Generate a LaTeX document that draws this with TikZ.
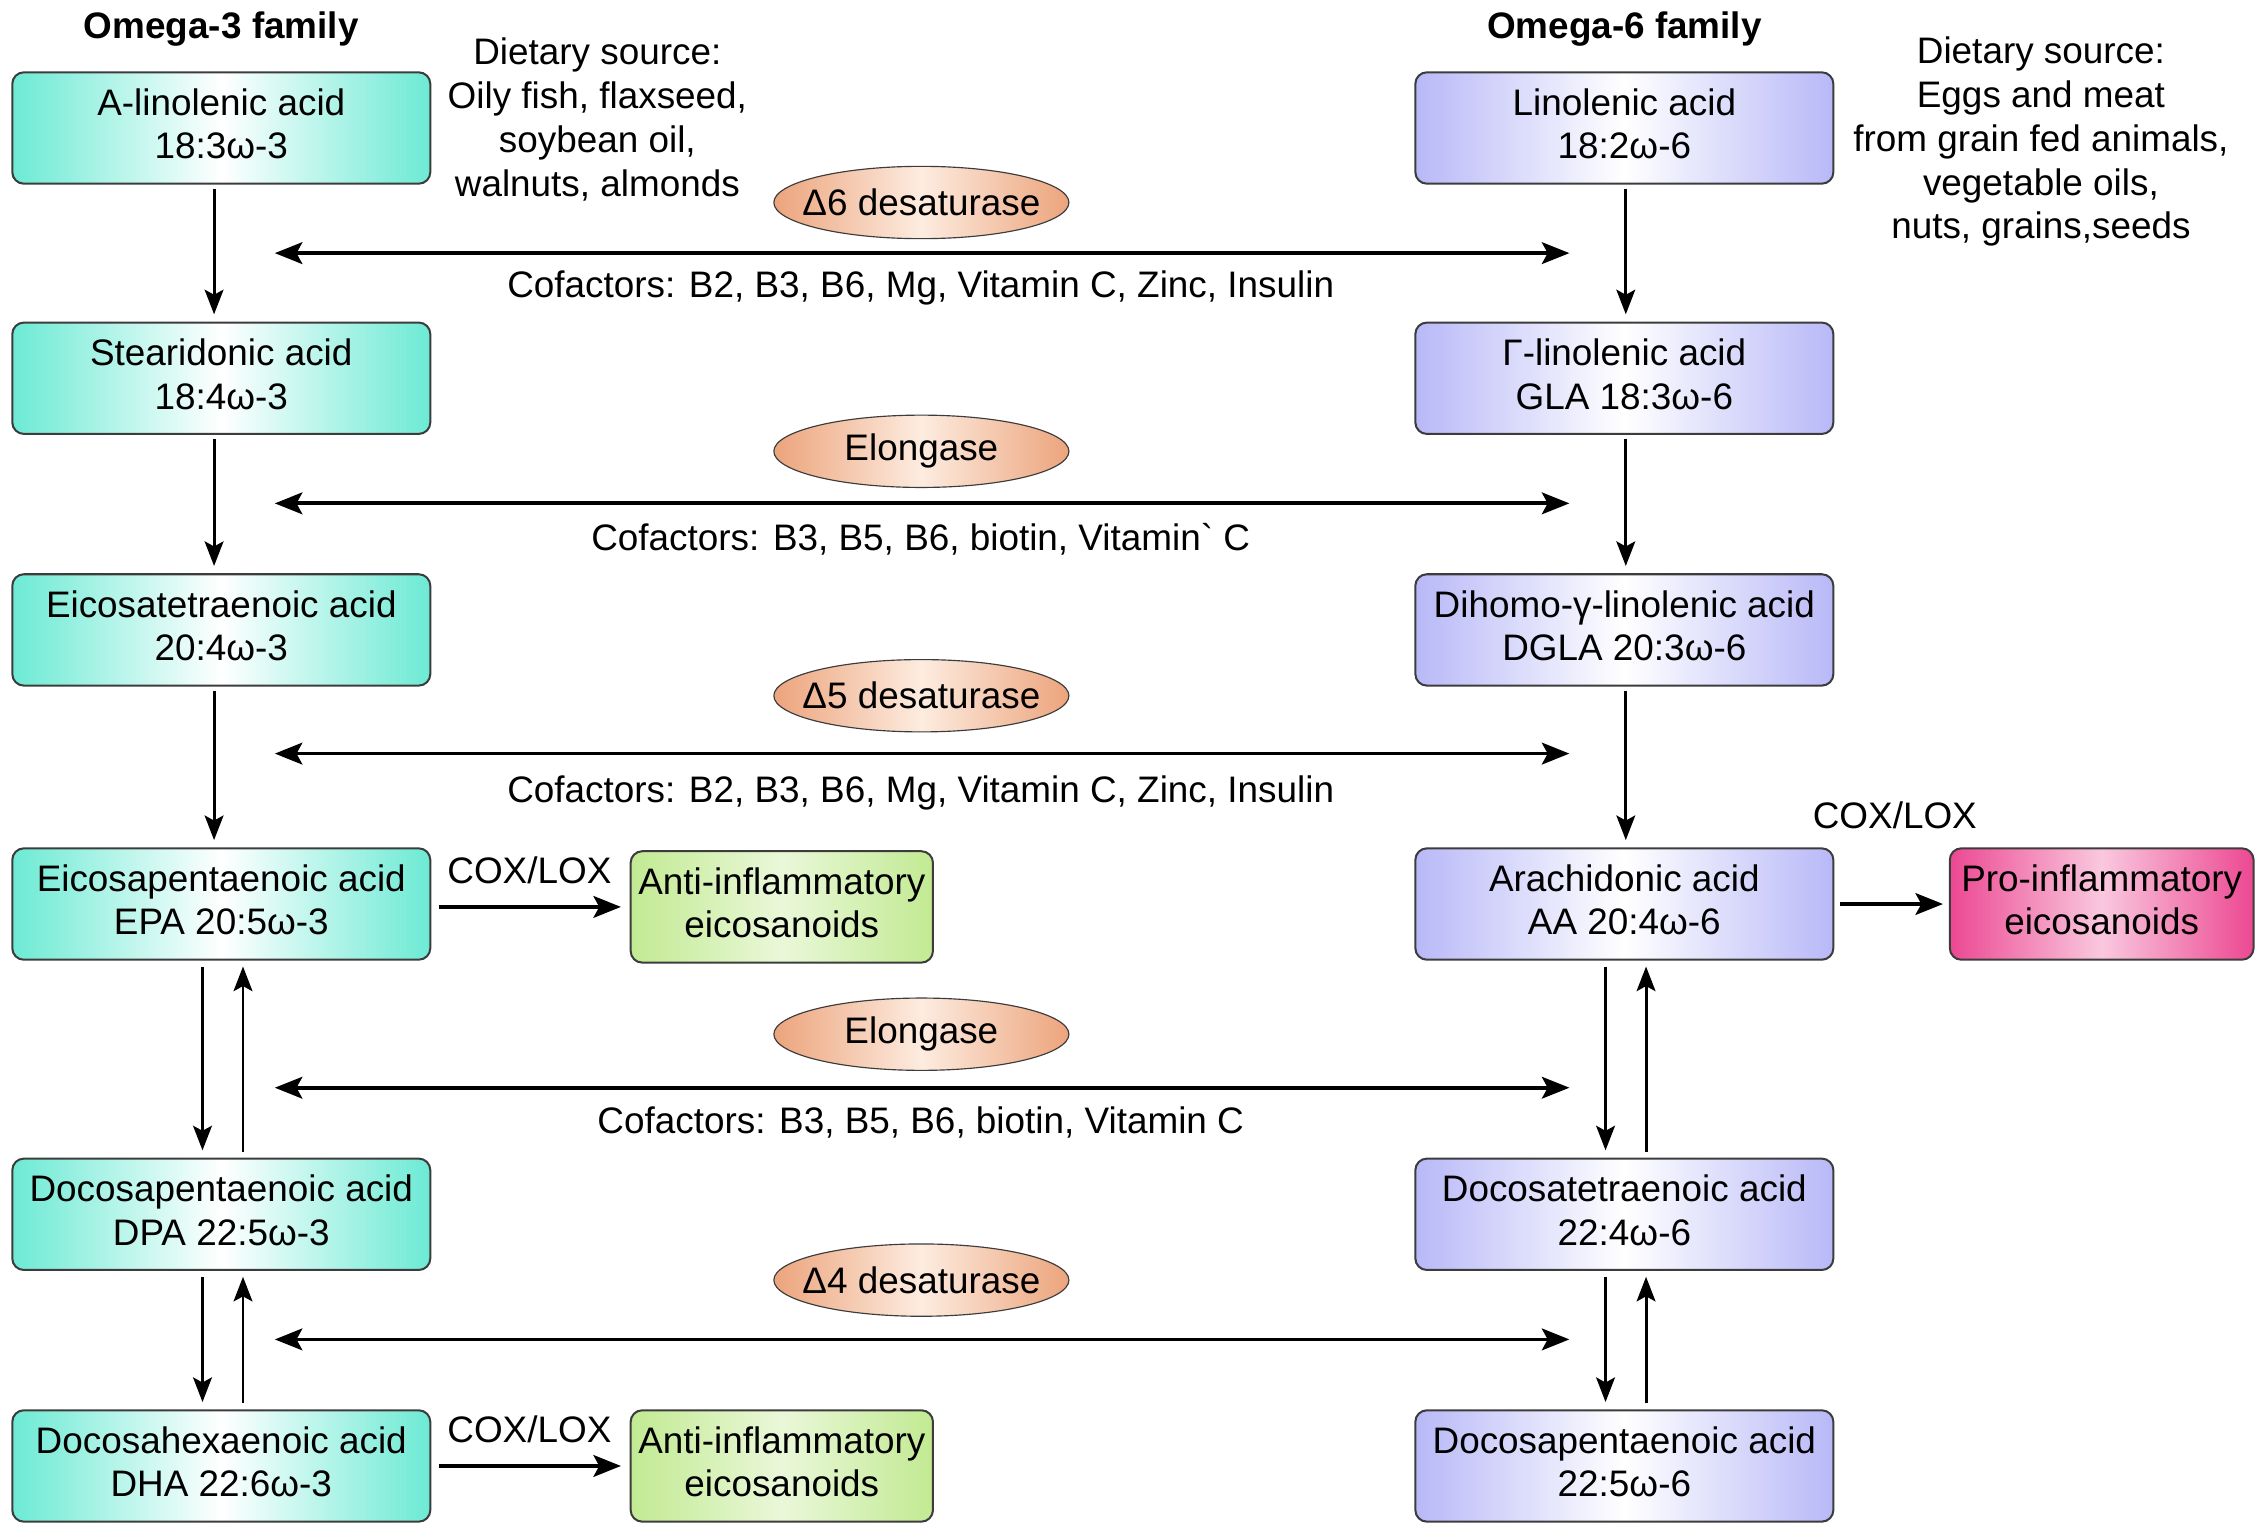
\documentclass[tikz,border=0pt]{standalone}
\usepackage{fontspec}
\setmainfont{Liberation Sans}
\usetikzlibrary{shapes.geometric,arrows.meta}
\definecolor{teal3}{RGB}{108,234,212}
\definecolor{purp6}{RGB}{184,184,248}
\definecolor{greenA}{RGB}{194,234,146}
\definecolor{pinkP}{RGB}{236,72,146}
\definecolor{orng}{RGB}{236,164,124}
\definecolor{orngL}{RGB}{253,236,224}
\definecolor{bord}{RGB}{60,60,60}
\tikzset{
  txt/.style={font=\fontsize{25.5}{30.3}\selectfont, align=center, inner sep=0pt},
  hdr/.style={txt, font=\fontsize{25.5}{30.3}\selectfont\bfseries},
  box/.style={txt, text depth=6pt, draw=bord, line width=1.4pt, rounded corners=8pt, minimum width=289pt, minimum height=77pt},
  o3box/.style={box, left color=teal3, right color=teal3, middle color=white},
  o6box/.style={box, left color=purp6, right color=purp6, middle color=white},
  antibox/.style={box, minimum width=209pt, left color=greenA, right color=greenA, middle color=white!65!greenA},
  probox/.style={box, minimum width=210pt, left color=pinkP, right color=pinkP, middle color=white!70!pinkP},
  enz/.style={txt, ellipse, draw=bord, line width=0.8pt, minimum width=204pt, minimum height=50pt, left color=orng, right color=orng, middle color=orngL},
  arr/.style={-{Stealth[length=17pt,width=13pt,inset=3.5pt]}, line width=2pt},
  harr/.style={-{Stealth[length=19pt,width=15pt,inset=4pt]}, line width=2.6pt},
  dbl/.style={{Stealth[length=19pt,width=15pt,inset=4pt]}-{Stealth[length=19pt,width=15pt,inset=4pt]}, line width=2.6pt},
}
\newcommand{\enzlabel}[1]{\makebox[100pt][c]{#1}}
\begin{document}
\begin{tikzpicture}[x=1pt,y=-1pt]
\useasboundingbox (0,0) rectangle (1568,1060);

% headers
\node[hdr] (h3) at (153,20) {Omega-3 family};
\node[hdr] (h6) at (1123,20) {Omega-6 family};

% dietary sources
\node[txt] (ds3) at (413,82.5) {Dietary source:\\Oily fish, flaxseed,\\soybean oil,\\walnuts, almonds};
\node[txt] (ds6) at (1411,98) {Dietary source:\\Eggs and meat\\from grain fed animals,\\vegetable oils,\\nuts, grains,seeds};

% omega-3 column
\node[o3box] (a1) at (153,88.5) {A-linolenic acid\\18:3ω-3};
\node[o3box] (a2) at (153,261.5) {Stearidonic acid\\18:4ω-3};
\node[o3box] (a3) at (153,435.5) {Eicosatetraenoic acid\\20:4ω-3};
\node[o3box] (a4) at (153,625) {Eicosapentaenoic acid\\EPA 20:5ω-3};
\node[o3box] (a5) at (153,839.5) {Docosapentaenoic acid\\DPA 22:5ω-3};
\node[o3box] (a6) at (153,1013.5) {Docosahexaenoic acid\\DHA 22:6ω-3};

% omega-6 column
\node[o6box] (b1) at (1123,88.5) {Linolenic acid\\18:2ω-6};
\node[o6box] (b2) at (1123,261.5) {Γ-linolenic acid\\GLA 18:3ω-6};
\node[o6box] (b3) at (1123,435.5) {Dihomo-γ-linolenic acid\\DGLA 20:3ω-6};
\node[o6box] (b4) at (1123,625) {Arachidonic acid\\AA 20:4ω-6};
\node[o6box] (b5) at (1123,839.5) {Docosatetraenoic acid\\22:4ω-6};
\node[o6box] (b6) at (1123,1013.5) {Docosapentaenoic acid\\22:5ω-6};

% eicosanoids
\node[antibox] (ai1) at (540.5,627) {Anti-inflammatory\\eicosanoids};
\node[antibox] (ai2) at (540.5,1013.5) {Anti-inflammatory\\eicosanoids};
\node[probox] (pi) at (1453,625) {Pro-inflammatory\\eicosanoids};

% enzymes
\node[enz] (e1) at (637,140) {\enzlabel{Δ6 desaturase}};
\node[enz] (e2) at (637,312) {\enzlabel{Elongase}};
\node[enz] (e3) at (637,481) {\enzlabel{Δ5 desaturase}};
\node[enz] (e4) at (637,715) {\enzlabel{Elongase}};
\node[enz] (e5) at (637,885) {\enzlabel{Δ4 desaturase}};

% cofactors
\node[txt] (c1) at (636.5,199) {Cofactors: B2, B3, B6, Mg, Vitamin C, Zinc, Insulin};
\node[txt] (c2) at (636.5,373) {Cofactors: B3, B5, B6, biotin, Vitamin\textasciigrave{} C};
\node[txt] (c3) at (636.5,548) {Cofactors: B2, B3, B6, Mg, Vitamin C, Zinc, Insulin};
\node[txt] (c4) at (636.5,776) {Cofactors: B3, B5, B6, biotin, Vitamin C};

% COX/LOX labels
\node[txt] (x1) at (366,602) {COX/LOX};
\node[txt] (x2) at (366,988) {COX/LOX};
\node[txt] (x3) at (1310,564) {COX/LOX};

% double arrows
\coordinate (l1) at (190,175);  \coordinate (r1) at (1085,175);
\coordinate (l2) at (190,348);  \coordinate (r2) at (1085,348);
\coordinate (l3) at (190,521);  \coordinate (r3) at (1085,521);
\coordinate (l4) at (190,752);  \coordinate (r4) at (1085,752);
\coordinate (l5) at (190,926);  \coordinate (r5) at (1085,926);
\foreach \i in {1,...,5} {\draw[dbl] (l\i) -- (r\i);}

% vertical arrows omega-3
\draw[arr, shorten <=3pt, shorten >=5pt] ([xshift=-5pt]a1.south) -- ([xshift=-5pt]a2.north);
\draw[arr, shorten <=3pt, shorten >=5pt] ([xshift=-5pt]a2.south) -- ([xshift=-5pt]a3.north);
\draw[arr, shorten <=3pt, shorten >=5pt] ([xshift=-5pt]a3.south) -- ([xshift=-5pt]a4.north);
\draw[arr, shorten <=4pt, shorten >=5pt] ([xshift=-13pt]a4.south) -- ([xshift=-13pt]a5.north);
\draw[arr, shorten <=4pt, shorten >=4pt] ([xshift=15pt]a5.north) -- ([xshift=15pt]a4.south);
\draw[arr, shorten <=4pt, shorten >=5pt] ([xshift=-13pt]a5.south) -- ([xshift=-13pt]a6.north);
\draw[arr, shorten <=4pt, shorten >=4pt] ([xshift=15pt]a6.north) -- ([xshift=15pt]a5.south);

% vertical arrows omega-6
\draw[arr, shorten <=3pt, shorten >=5pt] ([xshift=1pt]b1.south) -- ([xshift=1pt]b2.north);
\draw[arr, shorten <=3pt, shorten >=5pt] ([xshift=1pt]b2.south) -- ([xshift=1pt]b3.north);
\draw[arr, shorten <=3pt, shorten >=5pt] ([xshift=1pt]b3.south) -- ([xshift=1pt]b4.north);
\draw[arr, shorten <=4pt, shorten >=5pt] ([xshift=-13pt]b4.south) -- ([xshift=-13pt]b5.north);
\draw[arr, shorten <=4pt, shorten >=4pt] ([xshift=15pt]b5.north) -- ([xshift=15pt]b4.south);
\draw[arr, shorten <=4pt, shorten >=5pt] ([xshift=-13pt]b5.south) -- ([xshift=-13pt]b6.north);
\draw[arr, shorten <=4pt, shorten >=4pt] ([xshift=15pt]b6.north) -- ([xshift=15pt]b5.south);

% COX/LOX arrows
\draw[harr, shorten <=5pt, shorten >=6pt] (a4.east |- ai1.west) -- (ai1.west);
\draw[harr, shorten <=5pt, shorten >=6pt] (a6.east) -- (ai2.west);
\draw[harr, shorten <=4pt, shorten >=4pt] (b4.east) -- (pi.west);
\end{tikzpicture}
\end{document}
